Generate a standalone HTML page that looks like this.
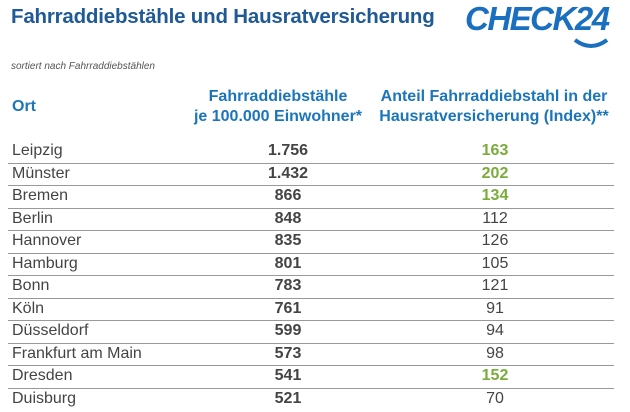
<!DOCTYPE html>
<html><head><meta charset="utf-8"><style>
body{margin:0;width:630px;height:412px;overflow:hidden;background:#fff;font-family:"Liberation Sans",sans-serif;position:relative}
.a{position:absolute;white-space:nowrap}
#title{left:11px;top:5px;font-size:20.5px;font-weight:bold;color:#1f5a96;letter-spacing:-0.2px}
#logo{left:465px;top:0px;font-size:33px;font-weight:bold;font-style:italic;color:#1b6fbf;letter-spacing:-1.5px}
#sub{left:11px;top:61px;font-size:10px;font-style:italic;color:#555}
.h{font-size:16px;font-weight:bold;color:#1b75bb;text-align:center;line-height:20px}
.row{position:absolute;left:8px;width:606px;height:22.5px;border-bottom:1px solid #999;font-size:16px;color:#444}
.row:last-child{border-bottom:none}
.row span{position:absolute;top:2px}
</style></head><body>
<div class="a" id="title">Fahrraddiebstähle und Hausratversicherung</div>
<div class="a" id="logo">CHECK24<svg width="40" height="14" style="position:absolute;left:106px;top:38px"><path d="M4 2 Q20 14 36 2" stroke="#1b6fbf" stroke-width="4" fill="none"/></svg></div>
<div class="a" id="sub">sortiert nach Fahrraddiebstählen</div>
<div class="a h" style="left:12px;top:97px">Ort</div>
<div class="a h" style="left:180px;top:87px;width:196px">Fahrraddiebstähle<br>je 100.000 Einwohner*</div>
<div class="a h" style="left:372px;top:87px;width:244px">Anteil Fahrraddiebstahl in der<br>Hausratversicherung (Index)**</div>
<div id="tbl"></div>
<script>
const cities=["Leipzig","Münster","Bremen","Berlin","Hannover","Hamburg","Bonn","Köln","Düsseldorf","Frankfurt am Main","Dresden","Duisburg"];
const thefts=["1.756","1.432","866","848","835","801","783","761","599","573","541","521"];
const index=[163,202,134,112,126,105,121,91,94,98,152,70];
const tbl=document.getElementById('tbl');
cities.forEach((c,i)=>{
  const r=document.createElement('div');r.className='row';
  
  
  r.style.top=(140+i*22.5)+'px';
  const green=index[i]>130;
  r.innerHTML='<span style="left:4px">'+c+'</span><span style="left:230px;width:100px;text-align:center;font-weight:bold">'+thefts[i]+'</span><span style="left:437px;width:100px;text-align:center;'+(green?'color:#7aac3a;font-weight:bold':'')+'">'+index[i]+'</span>';
  tbl.appendChild(r);
});
</script>
</body></html>
